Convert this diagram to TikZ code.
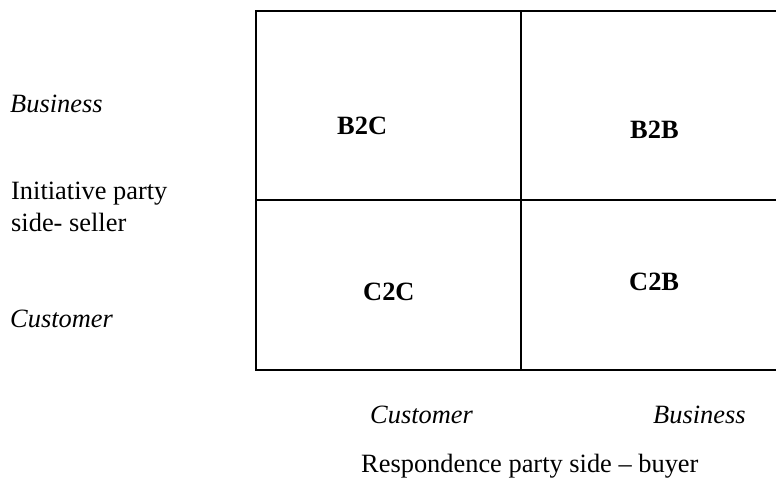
\documentclass[tikz,border=0pt]{standalone}
\usepackage{fontspec}
\setmainfont{Liberation Serif}
\begin{document}
\begin{tikzpicture}[x=1pt,y=-1pt,
  txt/.style={anchor=base west,inner sep=0pt,font=\fontsize{26.4}{31.7}\selectfont},
  itxt/.style={txt,font=\fontsize{26.4}{31.7}\selectfont\itshape},
  btxt/.style={txt,font=\fontsize{26.4}{31.7}\selectfont\bfseries},
  gridline/.style={line width=2pt,black}]
\useasboundingbox[fill=white] (0,0) rectangle (776,483);
% grid
\coordinate (tl) at (256,10.5);
\coordinate (tr) at (776,10.5);
\coordinate (ml) at (256,200);
\coordinate (mr) at (776,200);
\coordinate (bl) at (256,369.5);
\coordinate (br) at (776,369.5);
\coordinate (tm) at (521,10.5);
\coordinate (bm) at (521,369.5);
\draw[gridline] (tr) -- (tl) -- (bl) -- (br);
\draw[gridline] (ml) -- (mr);
\draw[gridline] (tm) -- (bm);
% cell labels
\node[btxt] (b2c) at (337,134.3) {B2C};
\node[btxt] (b2b) at (630,138.3) {B2B};
\node[btxt] (c2c) at (363,300) {C2C};
\node[btxt] (c2b) at (629,290) {C2B};
% left labels
\node[itxt] (lbus) at (10,112) {Business};
\node[txt,align=left,anchor=north west] (init) at (11,182) {Initiative party\\side- seller};
\node[itxt] (lcus) at (10,327) {Customer};
% bottom labels
\node[itxt] (bcus) at (370,423) {Customer};
\node[itxt] (bbus) at (653,423) {Business};
\node[txt] (resp) at (361,472.7) {Respondence party side – buyer};
\end{tikzpicture}
\end{document}
